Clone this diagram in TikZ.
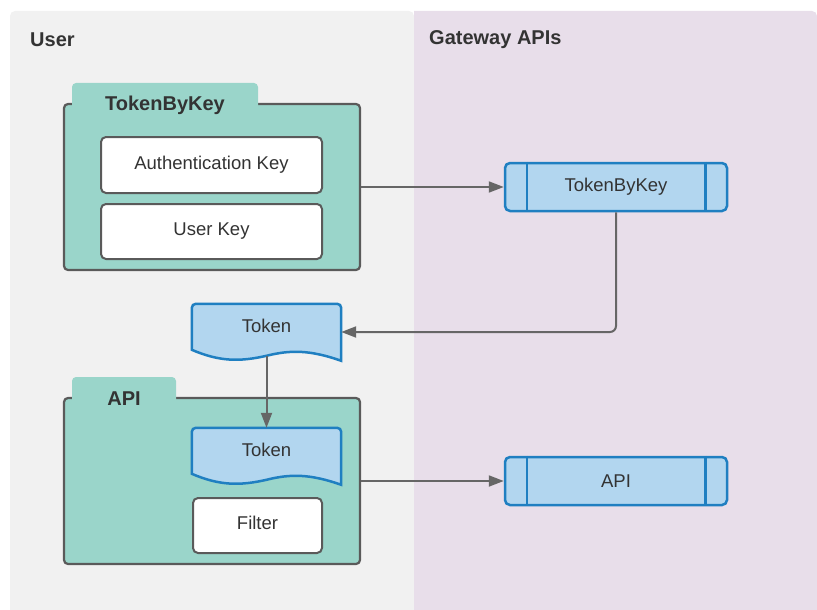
\documentclass[tikz,border=0pt]{standalone}
\usepackage{fontspec}
\setmainfont{Liberation Sans}
\usetikzlibrary{arrows.meta,calc}
\definecolor{lanegray}{HTML}{F1F1F1}
\definecolor{lanepurple}{HTML}{E8DEEA}
\definecolor{tealfill}{HTML}{9AD5CA}
\definecolor{darkstroke}{HTML}{5A5A5A}
\definecolor{bluefill}{HTML}{B2D6EF}
\definecolor{bluestroke}{HTML}{1F7FC1}
\definecolor{txt}{HTML}{333333}
\definecolor{connc}{HTML}{666666}
\newcommand{\docshape}[1]{%
  \filldraw[docsty] ($(#1.north west)+(0,46)$) [rounded corners=4pt] -- (#1.north west) -- (#1.north east) [sharp corners] -- ($(#1.north east)+(0,57)$)
    .. controls ($(#1.north east)+(-31,46)$) and ($(#1.north east)+(-51,46)$) .. ($(#1.north)+(0,52)$)
    .. controls ($(#1.north west)+(48,58)$) and ($(#1.north west)+(28,58)$) .. ($(#1.north west)+(0,46)$) -- cycle;}
\begin{document}
\begin{tikzpicture}[x=1pt,y=-1pt,
  lanelabel/.style={font=\fontsize{20}{24}\selectfont\bfseries, text=txt, anchor=west, inner sep=0pt},
  foldertitle/.style={font=\fontsize{20}{24}\selectfont\bfseries, text=txt, inner sep=0pt},
  folderbody/.style={draw=darkstroke, fill=tealfill, line width=2.2pt, rounded corners=4pt, minimum width=296pt, inner sep=0pt},
  keybox/.style={draw=darkstroke, fill=white, line width=2pt, rounded corners=5pt, font=\fontsize{18.5}{22}\selectfont, text=txt, inner sep=0pt},
  proc/.style={draw=bluestroke, fill=bluefill, line width=2.5pt, rounded corners=5pt, minimum width=222pt, minimum height=48pt, font=\fontsize{18.5}{22}\selectfont, text=txt, inner sep=0pt},
  procline/.style={draw=bluestroke, line width=2.5pt},
  docnode/.style={draw=none, minimum width=149pt, minimum height=52pt, inner sep=0pt},
  docsty/.style={draw=bluestroke, fill=bluefill, line width=2.5pt},
  doctext/.style={font=\fontsize{18.5}{22}\selectfont, text=txt, inner sep=0pt},
  conn/.style={draw=connc, line width=2pt, -{Triangle[length=15pt,width=11pt]}}
]
\useasboundingbox (0,0) rectangle (817,610);
% lanes
\fill[lanegray] (10,610) [rounded corners=5pt] -- (10,11) -- (414,11) [sharp corners] -- (414,610) -- cycle;
\fill[lanepurple] (414,610) -- (414,11) [rounded corners=5pt] -- (817,11) [sharp corners] -- (817,610) -- cycle;
\node[lanelabel] (userlbl) at (30,40) {User};
\node[lanelabel] (gwlbl) at (429,40) {Gateway APIs};

% TokenByKey folder
\node[folderbody, minimum height=166pt] (fold1) at (212,187) {};
\fill[tealfill, rounded corners=4pt] (72,112) -- (72,83) -- (258,83) -- (258,112) -- cycle;
\node[foldertitle] (fold1t) at (165,105) {TokenByKey};
\node[keybox, minimum width=221pt, minimum height=56pt] (authkey) at (211.5,165) {Authentication Key};
\node[keybox, minimum width=221pt, minimum height=55pt] (userkey) at (211.5,231.5) {User Key};

% API folder
\node[folderbody, minimum height=166pt] (fold2) at (212,481) {};
\fill[tealfill, rounded corners=4pt] (72,406) -- (72,377) -- (176,377) -- (176,406) -- cycle;
\node[foldertitle] (fold2t) at (124,399) {API};
\node[keybox, minimum width=129pt, minimum height=55pt, text depth=6pt] (filter) at (257.5,525.5) {Filter};

% Token documents
\node[docnode] (tok1) at (266.5,330) {};
\docshape{tok1}
\node[doctext] (tok1t) at ([yshift=4pt]tok1.center) {Token};
\node[docnode] (tok2) at (266.5,454) {};
\docshape{tok2}
\node[doctext] (tok2t) at ([yshift=4pt]tok2.center) {Token};

% Gateway processes
\node[proc] (proc1) at (616,187) {TokenByKey};
\draw[procline] ([xshift=23pt]proc1.north west) -- ([xshift=23pt]proc1.south west);
\draw[procline] ([xshift=-23pt]proc1.north east) -- ([xshift=-23pt]proc1.south east);
\node[proc] (proc2) at (616,481) {API};
\draw[procline] ([xshift=23pt]proc2.north west) -- ([xshift=23pt]proc2.south west);
\draw[procline] ([xshift=-23pt]proc2.north east) -- ([xshift=-23pt]proc2.south east);

% connectors
\draw[conn] (fold1.east) -- (proc1.west);
\draw[conn, rounded corners=6pt] (proc1.south) |- ([yshift=-2pt]tok1.east);
\draw[conn] (tok1.south) -- (tok2.north);
\draw[conn] (fold2.east) -- (proc2.west);
\end{tikzpicture}
\end{document}
